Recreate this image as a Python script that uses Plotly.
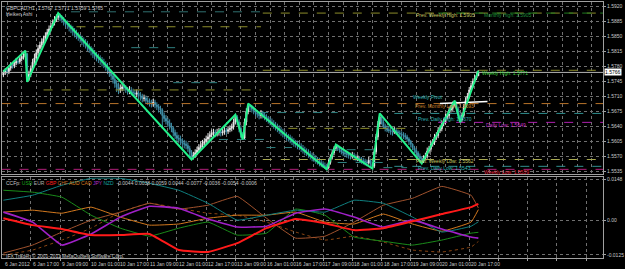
import plotly.graph_objects as go

# ---------------- data ----------------
BASE = 1.5500          # price = BASE + pips * 0.0001
PIP = 0.0001

bar_open = [260, 265, 270, 268, 276, 282, 281, 288, 292, 291, 298, 302, 305,
            310,
            250, 262, 275, 290, 300, 312, 322, 330, 338, 345, 352, 360, 368, 375, 382, 390, 395,
            398, 395, 390, 385, 380, 378, 372,
            368, 362, 358, 352, 348, 345, 340, 335,
            332, 325, 320, 316, 310, 305, 302, 298, 295, 290, 285, 280, 272,
            265, 258, 250, 240, 232, 225, 228,
            232, 230, 226, 222, 225, 220, 218, 215, 218, 212,
            210, 205, 206, 200, 198, 195, 192, 196, 190, 186, 182,
            178, 165, 158, 152, 148, 140,
            136, 125, 118, 112, 110, 105, 100, 98,
            95, 88, 78,
            68, 72, 78, 84, 90, 95, 100, 104, 110, 115, 120, 124, 126, 122, 125, 128, 124, 126, 130, 128, 132, 135, 138, 150,
            162, 150, 135, 120,
            112, 150, 175,
            188, 185, 180, 176, 172, 168, 165, 170, 166, 162, 158,
            155, 150, 146, 142, 138, 135, 130, 126, 122, 118, 115, 112, 108, 104, 100, 98, 95,
            92, 88, 85, 80, 78, 74, 70, 66, 64, 60, 58, 55, 52, 48, 45,
            42, 55, 68, 78, 88,
            94, 88, 84, 80, 78, 76, 74, 72, 70, 72, 68, 65, 66, 62, 60, 58, 56, 54, 60, 52,
            46, 80, 115, 145,
            162, 150, 140, 135, 132, 130, 128, 126, 130, 127, 124, 122, 120, 118, 115, 110, 104, 98, 90, 84, 78, 70, 64,
            58, 66, 70, 82, 86, 98, 102, 115, 118, 130, 134, 146, 150, 162, 165, 178, 182, 192,
            195, 180, 165,
            155, 165, 185, 200, 210, 225, 235, 245, 252, 258]

bar_high = [272, 276, 278, 282, 290, 288, 295, 300, 298, 305, 310, 312, 317,
            312,
            270, 282, 298, 310, 320, 330, 338, 346, 352, 360, 368, 376, 382, 390, 398, 402, 405,
            404, 400, 396, 390, 388, 382, 378,
            375, 370, 366, 360, 356, 352, 348, 344,
            340, 334, 328, 324, 318, 314, 310, 306, 302, 298, 292, 288, 280,
            272, 266, 258, 248, 242, 238, 242,
            240, 236, 232, 234, 232, 228, 225, 226, 224, 220,
            216, 214, 212, 208, 205, 202, 204, 202, 196, 192, 188,
            182, 172, 166, 160, 156, 148,
            140, 132, 126, 120, 118, 112, 108, 106,
            102, 94, 84,
            80, 86, 92, 98, 104, 108, 112, 118, 124, 128, 132, 134, 132, 134, 136, 134, 134, 138, 136, 140, 142, 146, 158, 167,
            166, 156, 142, 126,
            158, 182, 193,
            192, 190, 186, 182, 178, 175, 178, 176, 172, 168, 164,
            162, 158, 154, 150, 146, 142, 138, 134, 130, 126, 122, 120, 116, 112, 108, 106, 102,
            100, 96, 92, 88, 86, 82, 78, 75, 72, 68, 66, 62, 58, 55, 52,
            62, 74, 84, 93, 97,
            97, 94, 90, 86, 84, 82, 80, 78, 80, 78, 74, 72, 70, 68, 66, 64, 62, 68, 64, 56,
            88, 122, 152, 169,
            166, 156, 146, 142, 140, 138, 136, 138, 136, 132, 130, 128, 126, 124, 120, 114, 108, 100, 94, 88, 82, 76, 70,
            72, 78, 90, 94, 106, 110, 122, 126, 138, 142, 154, 158, 170, 172, 186, 190, 198, 200,
            198, 186, 172,
            172, 192, 208, 218, 232, 242, 252, 260, 268, 271]

bar_low = [255, 260, 262, 262, 270, 275, 276, 283, 285, 286, 292, 296, 300,
           244,
           246, 255, 270, 284, 295, 306, 316, 324, 332, 340, 346, 354, 362, 370, 376, 384, 388,
           386, 382, 376, 372, 368, 362, 358,
           352, 348, 344, 340, 336, 330, 326, 322,
           316, 312, 306, 300, 296, 292, 288, 284, 280, 276, 270, 262, 256,
           248, 240, 230, 220, 215, 218, 222,
           222, 218, 214, 215, 212, 210, 206, 208, 204, 200,
           196, 198, 192, 190, 186, 184, 186, 182, 178, 172, 168,
           134, 150, 144, 138, 132, 126,
           116, 110, 104, 100, 96, 92, 88, 86,
           80, 70, 62,
           62, 66, 72, 78, 84, 88, 94, 98, 104, 108, 114, 116, 114, 116, 118, 116, 118, 120, 120, 122, 126, 128, 132, 144,
           142, 126, 112, 109,
           110, 142, 168,
           176, 172, 168, 164, 160, 156, 158, 158, 154, 150, 146,
           142, 138, 134, 130, 126, 122, 118, 114, 110, 106, 104, 100, 96, 92, 90, 86, 84,
           80, 76, 72, 70, 66, 62, 58, 56, 52, 50, 46, 44, 42, 40, 39,
           40, 50, 62, 72, 82,
           82, 78, 74, 70, 68, 66, 64, 62, 64, 60, 58, 58, 54, 52, 50, 48, 46, 50, 44, 41,
           42, 74, 108, 138,
           144, 134, 128, 126, 124, 120, 118, 122, 120, 116, 114, 112, 110, 108, 104, 96, 90, 84, 76, 70, 62, 58, 53,
           54, 60, 64, 76, 80, 92, 96, 108, 112, 124, 128, 140, 144, 156, 158, 172, 176, 186,
           172, 158, 149,
           150, 160, 180, 195, 205, 220, 230, 240, 248, 259]

bar_close = [265, 270, 268, 276, 282, 280, 288, 292, 290, 298, 302, 305, 310,
             250,
             262, 275, 290, 300, 312, 322, 330, 338, 345, 352, 360, 368, 375, 382, 390, 395, 398,
             395, 390, 385, 380, 378, 372, 368,
             362, 358, 352, 348, 345, 340, 335, 332,
             325, 320, 316, 310, 305, 302, 298, 295, 290, 285, 280, 272, 265,
             258, 250, 240, 232, 225, 228, 232,
             230, 226, 222, 225, 220, 218, 215, 218, 212, 210,
             205, 206, 200, 198, 195, 192, 196, 190, 186, 182, 178,
             165, 158, 152, 148, 140, 136,
             125, 118, 112, 110, 105, 100, 98, 95,
             88, 78, 68,
             72, 78, 84, 90, 95, 100, 104, 110, 115, 120, 124, 126, 122, 125, 128, 124, 126, 130, 128, 132, 135, 138, 150, 162,
             150, 135, 120, 112,
             150, 175, 188,
             185, 180, 176, 172, 168, 165, 170, 166, 162, 158, 155,
             150, 146, 142, 138, 135, 130, 126, 122, 118, 115, 112, 108, 104, 100, 98, 95, 92,
             88, 85, 80, 78, 74, 70, 66, 64, 60, 58, 55, 52, 48, 45, 42,
             55, 68, 78, 88, 94,
             88, 84, 80, 78, 76, 74, 72, 70, 72, 68, 65, 66, 62, 60, 58, 56, 54, 60, 52, 46,
             80, 115, 145, 162,
             150, 140, 135, 132, 130, 128, 126, 130, 127, 124, 122, 120, 118, 115, 110, 104, 98, 90, 84, 78, 70, 64, 58,
             66, 70, 82, 86, 98, 102, 115, 118, 130, 134, 146, 150, 162, 165, 178, 182, 192, 195,
             180, 165, 155,
             165, 185, 200, 210, 225, 235, 245, 252, 258, 265]

# ZigZag swing points (bar index, pips)
zz_bar = [0, 12, 13, 30, 103, 127, 131, 134, 177, 182, 202, 206, 229, 247, 250, 260]
zz_pips = [268, 317, 244, 405, 62, 167, 109, 193, 39, 97, 41, 170, 53, 200, 149, 270]

bid_pips = 266
pivot_bar = [239, 265]
pivot_pips = [193, 198]

# horizontal level segments: start bar, end bar, pips, colour
lvl_start = [37, 40, 70, 93, 22, 140, 156, 118, 144, 178, 183, 208,
             142, 238, 142, -1, -1, 214, 238, 142, 214]
lvl_end = [141, 141, 94, 117, 141, 183, 221, 144, 158, 205, 209, 221,
           329, 329, 329, 329, 329, 329, 329, 329, 329]
lvl_pips = [408, 373, 324, 242, 225, 172, 135, 109, 90, 85, 55, 43,
            405, 405, 271, 193, 39, 170, 149, 62, 46]
lvl_color = ["#2f6f6f", "#8c8c2a", "#2f7f7f", "#2f7f7f", "#8c8c2a", "#2f7f7f", "#8c8c2a",
             "#2f7f7f", "#2f7f7f", "#2f7f7f", "#2f7f7f", "#2f7f7f",
             "#8c8c2a", "#1f7a1f", "#8c8c2a", "#b8742a", "#b0207a", "#2f8f8f", "#b020b0",
             "#a8a850", "#2f8f8f"]

# level text labels: bar, pips, text, colour
lab_bar = [225, 262, 261, 223, 224, 226, 263, 225, 226, 262]
lab_pips = [400, 400, 265, 209, 188, 158, 144, 58, 42, 32]
lab_text = ["Prev. Weekly High: 1.5905", "Monthly High: 1.5905", "Weekly High: 1.5771",
            "Weekly Pivot", "Prev. Monthly Low: 1.5693", "Prev. Daily High: 1.5670",
            "Daily Low: 1.5649", "Prev. Weekly Low: 1.5562", "Prev. Daily Low: 1.5543",
            "Weekly Low: 1.5539"]
lab_color = ["#c8c864", "#1f8f3f", "#3cd23c", "#2fb4b4", "#c8822a", "#2fb4b4",
             "#c832c8", "#c8c864", "#2fb4b4", "#e0203c"]

price_ticks = [1.5535, 1.5570, 1.5605, 1.5640, 1.5675, 1.5710, 1.5745, 1.5780,
               1.5815, 1.5850, 1.5885, 1.5920]

time_bar = [0, 15, 31, 47, 63, 79, 95, 111, 127, 143, 159, 175, 191, 207, 223, 239, 255]
time_text = ["6 Jan 2012", "6 Jan 17:00", "9 Jan 09:00", "10 Jan 01:00", "10 Jan 17:00",
             "11 Jan 09:00", "12 Jan 01:00", "12 Jan 17:00", "13 Jan 09:00", "16 Jan 01:00",
             "16 Jan 17:00", "17 Jan 09:00", "18 Jan 01:00", "18 Jan 17:00", "19 Jan 09:00",
             "20 Jan 01:00", "20 Jan 17:00"]

# CCFp currency strength (sampled every 16 bars), values in 1e-4
ccf_bar = [0, 16, 32, 48, 64, 80, 96, 112, 128, 144, 160, 176, 192, 208, 224, 240, 256, 260]
ccf_usd = [108, 101, 83, 18, -29, -58, -29, -7, -54, -47, 40, 18, -61, -76, -90, -72, -47, -44]
ccf_eur = [29, 36, 25, 47, 11, -18, -14, 7, 18, 18, 29, -7, -14, 22, -14, -40, -7, 38]
ccf_gbp = [7, -18, -32, -54, -54, -50, -108, -115, -83, -29, 4, -11, -36, -29, -4, 22, 47, 59]
ccf_chf = [-119, -90, -43, 0, 29, 61, 40, 54, 86, 7, -65, -58, -7, 54, 79, 122, 90, 44]
ccf_aud = [-126, -108, -72, -29, 29, 61, 43, 25, 18, -7, -43, -72, -58, -79, -108, -115, -97, -77]
ccf_cad = [29, -7, -90, -50, 11, 50, 43, 4, -25, -22, 25, 40, 11, -25, 0, -32, -61, -65]
ccf_nzd = [72, 90, 126, 151, 151, 133, 108, 61, 0, 18, 36, 29, 72, 61, 11, -43, -22, -6]
ccf_colors = ["#1a8a1a", "#d2781e", "#ff1a1a", "#a0522d", "#8b4513", "#a020c8", "#0f7f7f"]
ccf_widths = [1, 1, 2, 1, 1, 1.6, 1]
ccf_dash = ["solid", "solid", "solid", "solid", "dot", "solid", "solid"]

hdr_names = ["USD", "EUR", "GBP", "CHF", "AUD", "CAD", "JPY", "NZD"]
hdr_colors = ["#1aa01a", "#b0b0b0", "#ff2020", "#c06a2a", "#e08a1e", "#d2781e", "#b030d0", "#14a0a0"]
hdr_values = ["-0.0044", "0.0038", "0.0059", "0.0044", "-0.0077", "-0.0036", "-0.0054", "-0.0006"]

# ---------------- layout helpers ----------------
W, H = 625, 269
ML, MR, MT, MB = 1, 18, 1, 11
PW, PH = W - ML - MR, H - MT - MB
FS = 5


def px(x):
    return (x - ML) / PW


def py(y):
    return (H - MB - y) / PH


BAR0_PX, BAR_W = 2.4, 1.842
x_lo = (ML - BAR0_PX) / BAR_W
x_hi = (W - MR - BAR0_PX) / BAR_W

P_TOP = 1.5920 + (5.7 - 1) * 0.0035 / 15
P_BOT = 1.5920 - (174 - 5.7) * 0.0035 / 15
C_TOP = (220 - 177) / 2780
C_BOT = (220 - 258) / 2780


def P(v):
    return BASE + v * PIP


fig = go.Figure()

# level segments
for s, e, v, c in zip(lvl_start, lvl_end, lvl_pips, lvl_color):
    fig.add_trace(go.Scatter(x=[s, e], y=[P(v), P(v)], mode="lines",
                             line=dict(color=c, width=1, dash="dash"),
                             hoverinfo="skip", showlegend=False))

# bid line
fig.add_trace(go.Scatter(x=[x_lo, x_hi], y=[P(bid_pips)] * 2, mode="lines",
                         line=dict(color="#b4b4b4", width=1), hoverinfo="skip",
                         showlegend=False))

# Heiken Ashi bars
idx = list(range(len(bar_close)))
fig.add_trace(go.Candlestick(
    x=idx, open=[P(v) for v in bar_open], high=[P(v) for v in bar_high],
    low=[P(v) for v in bar_low], close=[P(v) for v in bar_close],
    increasing=dict(line=dict(color="#e8e8e8", width=1), fillcolor="#e8e8e8"),
    decreasing=dict(line=dict(color="#3f8fa8", width=1), fillcolor="#3f8fa8"),
    whiskerwidth=0, showlegend=False, hoverinfo="skip"))

# white pivot-ish line
fig.add_trace(go.Scatter(x=pivot_bar, y=[P(v) for v in pivot_pips], mode="lines",
                         line=dict(color="#ffffff", width=1.5), hoverinfo="skip",
                         showlegend=False))

# zigzag
fig.add_trace(go.Scatter(x=zz_bar, y=[P(v) for v in zz_pips], mode="lines",
                         line=dict(color="#22f08a", width=2), hoverinfo="skip",
                         showlegend=False))

# CCFp lines
series = [ccf_usd, ccf_eur, ccf_gbp, ccf_chf, ccf_aud, ccf_cad, ccf_nzd]
order = [4, 3, 1, 0, 6, 5, 2]
for k in order:
    fig.add_trace(go.Scatter(x=ccf_bar, y=[v * 1e-4 for v in series[k]], mode="lines",
                             line=dict(color=ccf_colors[k], width=ccf_widths[k],
                                       dash=ccf_dash[k], shape="spline", smoothing=0.3),
                             xaxis="x2", yaxis="y2", hoverinfo="skip", showlegend=False))

font = "Liberation Sans, Arial, sans-serif"
ann = []
for b, v, t, c in zip(lab_bar, lab_pips, lab_text, lab_color):
    ann.append(dict(x=b, y=P(v), xref="x", yref="y", text=t, showarrow=False,
                    xanchor="left", yanchor="middle", font=dict(size=FS, color=c, family=font)))

for b, t in zip(time_bar, time_text):
    ann.append(dict(x=b, y=py(259.5), xref="x2", yref="paper", text=t, showarrow=False,
                    xanchor="left", yanchor="top", font=dict(size=FS, color="#c8c8c8", family=font)))

ann.append(dict(x=px(3), y=py(2), xref="paper", yref="paper",
                text="GBPCAD,H1  1.5767 1.5771 1.5759 1.5765", showarrow=False,
                xanchor="left", yanchor="top", font=dict(size=FS, color="#c8c8c8", family=font)))
ann.append(dict(x=px(3), y=py(8), xref="paper", yref="paper", text="Heiken Ashi",
                showarrow=False, xanchor="left", yanchor="top",
                font=dict(size=FS, color="#c8c8c8", family=font)))
hdr = "CCFp: " + " ".join(f'<span style="color:{c}">{n}</span>'
                          for n, c in zip(hdr_names, hdr_colors)) + "  " + " ".join(hdr_values)
ann.append(dict(x=px(3), y=py(178), xref="paper", yref="paper", text=hdr,
                showarrow=False, xanchor="left", yanchor="top",
                font=dict(size=FS, color="#c8c8c8", family=font)))
ann.append(dict(x=px(3), y=py(251), xref="paper", yref="paper",
                text="IFX Trader, \u00a9 2001-2011 MetaQuotes Software Corp.",
                showarrow=False, xanchor="left", yanchor="top",
                font=dict(size=FS, color="#c8c8c8", family=font)))
# current price tag
ann.append(dict(x=px(608), y=P(bid_pips), xref="paper", yref="y", text="1.5766",
                showarrow=False, xanchor="left", yanchor="middle", bgcolor="#ffffff",
                borderpad=0, font=dict(size=FS, color="#000000", family=font)))

grid_main = list(range(-6, 330, 8))
grid_low = list(range(-1, 330, 16))

frame = "#a0a0a0"
gridc = "#707070"
fig.update_layout(
    width=W, height=H, margin=dict(l=ML, r=MR, t=MT, b=MB),
    paper_bgcolor="#000000", plot_bgcolor="#000000",
    font=dict(family=font, size=FS, color="#c8c8c8"),
    annotations=ann,
    xaxis=dict(domain=[0, 1], range=[x_lo, x_hi], anchor="y", rangeslider=dict(visible=False),
               tickvals=grid_main, showticklabels=False, ticks="", showgrid=True,
               gridcolor=gridc, griddash="dot", gridwidth=1, zeroline=False,
               showline=True, linecolor=frame, mirror=True),
    yaxis=dict(domain=[py(174), py(1)], range=[P_BOT, P_TOP], side="right",
               tickvals=price_ticks, ticktext=[f"{t:.4f}" for t in price_ticks],
               showgrid=True, gridcolor=gridc, griddash="dot", zeroline=False,
               ticks="outside", ticklen=2, tickcolor=frame,
               tickfont=dict(size=FS, color="#c8c8c8"),
               showline=True, linecolor=frame, mirror=True),
    xaxis2=dict(domain=[0, 1], range=[x_lo, x_hi], anchor="y2", matches="x",
                tickvals=grid_low, showticklabels=False, ticks="outside", ticklen=2,
                tickcolor=frame, showgrid=True, gridcolor=gridc, griddash="dot",
                zeroline=False, showline=True, linecolor=frame, mirror=True),
    yaxis2=dict(domain=[0, py(177)], range=[C_BOT, C_TOP], side="right", anchor="x2",
                tickvals=[0.0148, 0.0, -0.0125], ticktext=["0.0148", "0.00", "-0.0125"],
                showgrid=True, gridcolor=gridc, griddash="dot", zeroline=False,
                ticks="outside", ticklen=2, tickcolor=frame,
                tickfont=dict(size=FS, color="#c8c8c8"),
                showline=True, linecolor=frame, mirror=True),
)

fig.write_html("out.html")
